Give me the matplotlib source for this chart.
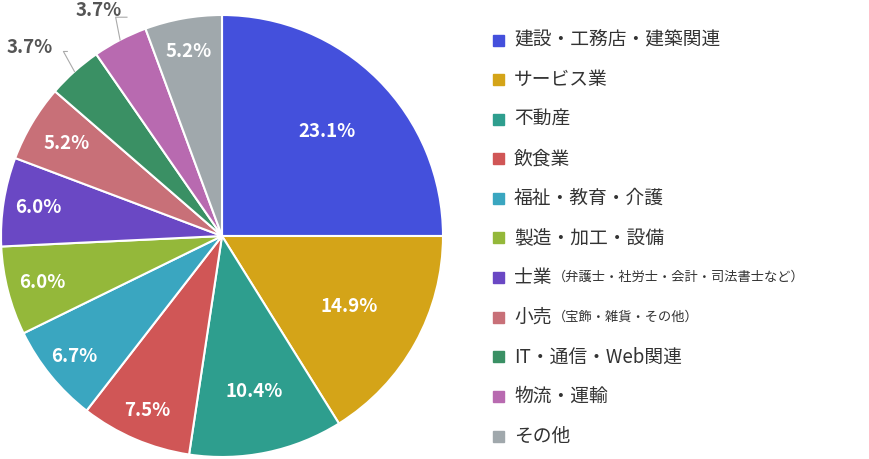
import matplotlib
matplotlib.use("Agg")
import matplotlib.pyplot as plt
import numpy as np

plt.rcParams['font.family'] = ['Noto Sans CJK JP', 'DejaVu Sans']

categories = ["建設・工務店・建築関連", "サービス業", "不動産", "飲食業", "福祉・教育・介護",
              "製造・加工・設備", "士業", "小売", "IT・通信・Web関連", "物流・運輸", "その他"]
subnotes = ["", "", "", "", "", "", "（弁護士・社労士・会計・司法書士など）", "（宝飾・雑貨・その他）", "", "", ""]
values = [23.1, 14.9, 10.4, 7.5, 6.7, 6.0, 6.0, 5.2, 3.7, 3.7, 5.2]
labels = ["23.1%", "14.9%", "10.4%", "7.5%", "6.7%", "6.0%", "6.0%", "5.2%", "3.7%", "3.7%", "5.2%"]
colors = ["#4450DC", "#D4A418", "#2E9E8E", "#D05656", "#3AA6C0", "#94B83A",
          "#6A48C4", "#C87078", "#3A9064", "#B86AB0", "#A0A8AC"]
label_r = [0.67, 0.66, 0.72, 0.86, 0.86, 0.84, 0.84, 0.82, None, None, 0.85]
outer_pos = {8: (-0.87, 0.855), 9: (-0.56, 1.02)}

W, H = 869, 459
fig = plt.figure(figsize=(W/100, H/100), dpi=100)
ax = fig.add_axes([1/W, 2/H, 442/W, 442/H])
wedges, _ = ax.pie(values, colors=colors, startangle=90, counterclock=False,
                   wedgeprops=dict(edgecolor="white", linewidth=1.5))
ax.set_xlim(-1, 1); ax.set_ylim(-1, 1); ax.set_aspect('equal')
for i, w in enumerate(wedges):
    a = np.deg2rad((w.theta1 + w.theta2) / 2)
    if i in outer_pos:
        x, y = outer_pos[i]
        ex, ey = np.cos(a), np.sin(a)
        if i == 8:
            ax.plot([ex, ex - 0.05, x + 0.17], [ey, y - 0.02, y - 0.02], color="#aaaaaa", lw=0.8, clip_on=False)
        else:
            ax.plot([ex, ex - 0.02, x + 0.13], [ey, y - 0.03, y - 0.03], color="#aaaaaa", lw=0.8, clip_on=False)
        ax.text(x, y, labels[i], ha="center", va="center", fontsize=13.5, fontweight="bold",
                color="#555555", clip_on=False)
    else:
        r = label_r[i]
        ax.text(r*np.cos(a), r*np.sin(a), labels[i], ha="center", va="center",
                fontsize=13.5, fontweight="bold", color="white")

y0, dy = 40, 39.6
for i, c in enumerate(categories):
    yy = 1 - (y0 + i*dy)/H
    fig.patches.append(plt.Rectangle((493/W, yy - 5.5/H), 11/W, 11/H, color=colors[i],
                                     transform=fig.transFigure))
    t = fig.text(514/W, yy, c, fontsize=13.5, va="center", ha="left", color="#333333")
    if subnotes[i]:
        fig.canvas.draw()
        bb = t.get_window_extent()
        fig.text(bb.x1/W + 1/W, yy, subnotes[i], fontsize=9.5, va="center", ha="left", color="#333333")

fig.savefig("out.png", dpi=100)
